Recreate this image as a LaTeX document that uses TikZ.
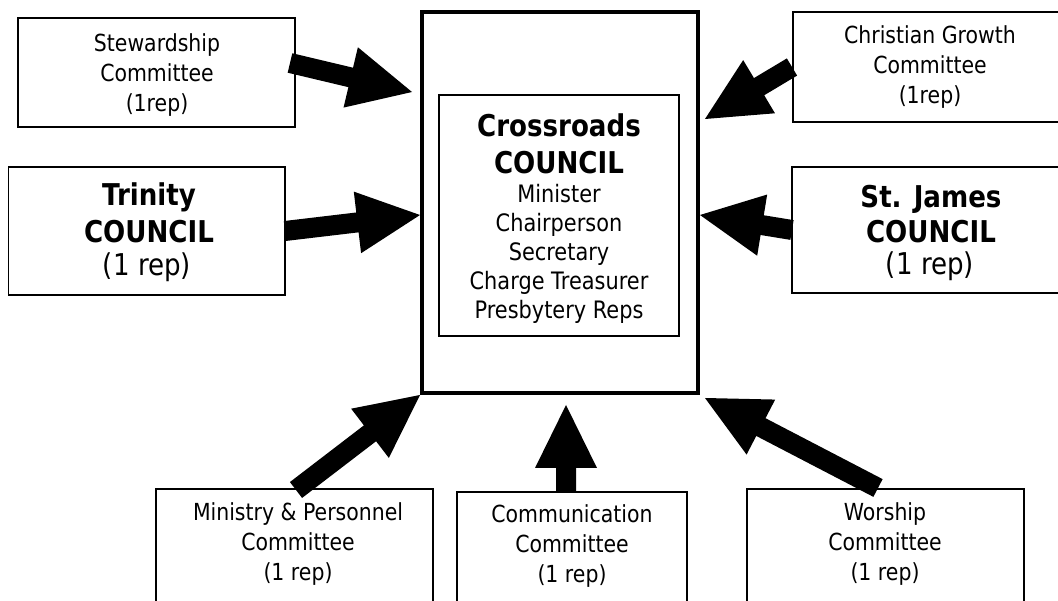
\documentclass[tikz,border=0pt]{standalone}
\usepackage{fontspec}
\setmainfont{DejaVu Sans}[FakeStretch=0.87]
\usetikzlibrary{calc}
\newcommand\blkarrow[2]{%
  \path ($(#2)!63pt!(#1)$) coordinate (hb);
  \fill ($(#1)!10pt!90:(#2)$) -- ($(hb)!10pt!90:(#2)$) -- ($(hb)!31pt!90:(#2)$) -- (#2)
     -- ($(hb)!31pt!-90:(#2)$) -- ($(hb)!10pt!-90:(#2)$) -- ($(#1)!10pt!-90:(#2)$) -- cycle;}
\begin{document}
\begin{tikzpicture}[x=1pt,y=-1pt,
  box/.style={draw, line width=1.4pt, rectangle, inner sep=0pt},
  txt/.style={align=center, inner sep=0pt, font=\fontsize{23.5}{30}\selectfont},
  bigb/.style={align=center, inner sep=0pt, font=\fontsize{30}{37}\selectfont\bfseries},
  bigr/.style={align=center, inner sep=0pt, font=\fontsize{30}{36}\selectfont},
  midr/.style={align=center, inner sep=0pt, font=\fontsize{24}{29}\selectfont}]
\useasboundingbox (0,0) rectangle (1058,601);
\fill[white] (0,0) rectangle (1058,601);
% central boxes
\node[box, line width=3.4pt, minimum width=276pt, minimum height=381pt] (outer) at (560,202.5) {};
\node[box, minimum width=240pt, minimum height=241pt] (inner) at (559,215.5) {};
\node[bigb] (crossT) at (559,144) {Crossroads\\COUNCIL};
\node[midr] (crossM) at (559,254) {Minister\\Chairperson\\Secretary\\Charge Treasurer\\Presbytery Reps};
% top boxes
\node[box, minimum width=277pt, minimum height=109pt] (stew) at (156.5,72.5) {};
\node[txt] (stewT) at (157,75) {Stewardship\\Committee\\(1rep)};
\node[box, minimum width=270pt, minimum height=110pt] (chr) at (928,67) {};
\node[txt] (chrT) at (930,67) {Christian Growth\\Committee\\(1rep)};
% side councils
\node[box, minimum width=276.5pt, minimum height=128pt] (trin) at (146.75,231) {};
\node[bigb] (trinT) at (149,212.5) {Trinity\\COUNCIL};
\node[bigr] (trinR) at (147,267) {(1 rep)};
\node[box, minimum width=271pt, minimum height=126pt] (stj) at (927.5,230) {};
\node[bigb, font=\fontsize{30}{35}\selectfont\bfseries] (stjT) at (931,214.5) {St. James\\COUNCIL};
\node[bigr] (stjR) at (930,266) {(1 rep)};
% bottom boxes
\node[box, minimum width=277pt, minimum height=131pt] (mini) at (294.5,554.5) {};
\node[txt] (miniT) at (298,544) {Ministry \& Personnel\\Committee\\(1 rep)};
\node[box, minimum width=230pt, minimum height=128pt] (comm) at (572,556) {};
\node[txt] (commT) at (572,546) {Communication\\Committee\\(1 rep)};
\node[box, minimum width=277pt, minimum height=131pt] (wor) at (885.5,554.5) {};
\node[txt] (worT) at (885,544) {Worship\\Committee\\(1 rep)};
% arrow ends
\coordinate (stewA) at (290,63);   \coordinate (stewB) at (412,92);
\coordinate (trinA) at (285,231);  \coordinate (trinB) at (420,215);
\coordinate (chrA)  at (792,67);   \coordinate (chrB)  at (705,119);
\coordinate (stjA)  at (792,230);  \coordinate (stjB)  at (700,215);
\coordinate (miniA) at (296,490);  \coordinate (miniB) at (420,395);
\coordinate (commA) at (566,492);  \coordinate (commB) at (566,405);
\coordinate (worA)  at (878,488);  \coordinate (worB)  at (705,398);
\blkarrow{stewA}{stewB}
\blkarrow{trinA}{trinB}
\blkarrow{chrA}{chrB}
\blkarrow{stjA}{stjB}
\blkarrow{miniA}{miniB}
\blkarrow{commA}{commB}
\blkarrow{worA}{worB}
\end{tikzpicture}
\end{document}
